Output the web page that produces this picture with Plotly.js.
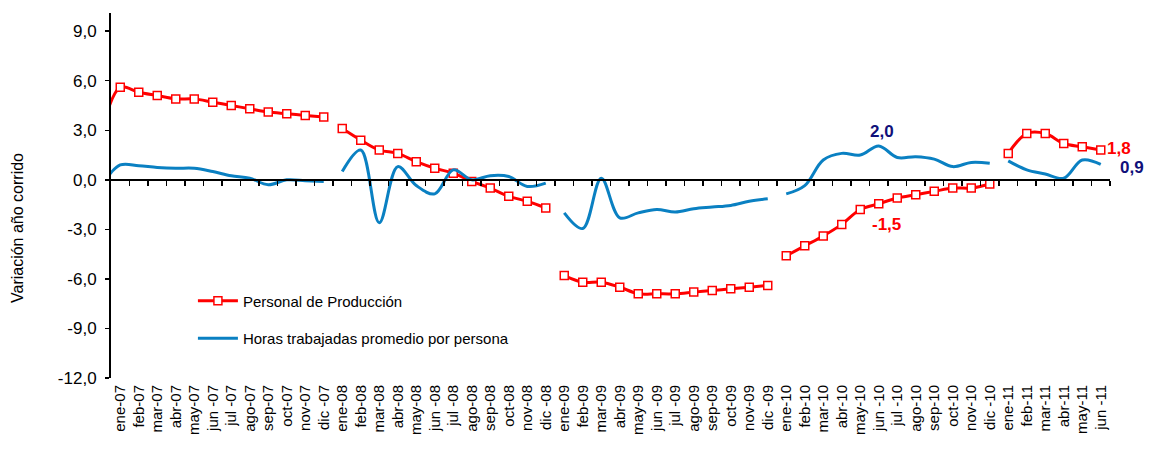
<!DOCTYPE html>
<html>
<head>
<meta charset="utf-8">
<script src="https://cdn.plot.ly/plotly-3.0.1.min.js"></script>
<style>html,body{margin:0;padding:0;background:#fff}#chart{width:1153px;height:450px}</style>
</head>
<body>
<div id="chart"></div>
<script>
// Category labels (months)
const labels = [
  'ene-07','feb-07','mar-07','abr-07','may-07','jun -07','jul -07','ago-07','sep-07','oct-07','nov-07','dic -07',
  'ene-08','feb-08','mar-08','abr-08','may-08','jun -08','jul -08','ago-08','sep-08','oct-08','nov-08','dic -08',
  'ene-09','feb-09','mar-09','abr-09','may-09','jun -09','jul -09','ago-09','sep-09','oct-09','nov-09','dic -09',
  'ene-10','feb-10','mar-10','abr-10','may-10','jun -10','jul -10','ago-10','sep-10','oct-10','nov-10','dic -10',
  'ene-11','feb-11','mar-11','abr-11','may-11','jun -11'
];

// Personal de Producción (variación año corrido, %)
const personal = [
  5.6, 5.3, 5.1, 4.9, 4.9, 4.7, 4.5, 4.3, 4.1, 4.0, 3.9, 3.8,
  3.1, 2.4, 1.8, 1.6, 1.1, 0.7, 0.4, -0.1, -0.5, -1.0, -1.3, -1.7,
  -5.8, -6.2, -6.2, -6.5, -6.9, -6.9, -6.9, -6.8, -6.7, -6.6, -6.5, -6.4,
  -4.6, -4.0, -3.4, -2.7, -1.8, -1.45, -1.1, -0.9, -0.7, -0.5, -0.5, -0.25,
  1.6, 2.8, 2.8, 2.2, 2.0, 1.8
];

// Horas trabajadas promedio por persona (variación año corrido, %)
const horas = [
  0.9, 0.85, 0.75, 0.7, 0.7, 0.5, 0.25, 0.1, -0.3, 0.0, -0.05, -0.1,
  0.5, 1.8, -2.6, 0.8, -0.35, -0.85, 0.6, 0.0, 0.25, 0.2, -0.4, -0.2,
  -2.0, -2.95, 0.1, -2.3, -2.0, -1.8, -1.95, -1.75, -1.65, -1.55, -1.3, -1.15,
  -0.85, -0.35, 1.2, 1.6, 1.5, 2.05, 1.35, 1.4, 1.25, 0.8, 1.05, 1.0,
  1.15, 0.6, 0.35, 0.1, 1.2, 0.93
];

// Previous month (dic-06), only partly visible at the left edge
const personalPrev = 2.9;
const horasPrev = -0.3;

// Y-axis ticks
const yTickVals = [-12, -9, -6, -3, 0, 3, 6, 9];
const yTickText = ['-12,0', '-9,0', '-6,0', '-3,0', '0,0', '3,0', '6,0', '9,0'];
const yTitle = 'Variación año corrido';

// Value labels
const labelJun10Horas = '2,0';
const labelJun10Personal = '-1,5';
const labelLastPersonal = '1,8';
const labelLastHoras = '0,9';

const yearOf = l => l.slice(-2);
function build(vals, prev) {
  const xs = [-1], ys = [prev];
  vals.forEach((v, i) => {
    if (i > 0 && yearOf(labels[i]) !== yearOf(labels[i - 1])) { xs.push(i - 0.5); ys.push(null); }
    xs.push(i); ys.push(v);
  });
  return {xs, ys};
}
const P = build(personal, personalPrev);
const H = build(horas, horasPrev);
const idx = labels.map((_, i) => i);
const last = labels.length - 1;
const jun10 = labels.indexOf('jun -10');

const FONT = 'Liberation Sans, Arial, sans-serif';

const traces = [
  {
    x: P.xs, y: P.ys, name: 'Personal de Producción', type: 'scatter', mode: 'lines+markers',
    legendgroup: 'p',
    line: {color: '#FF0000', width: 3, shape: 'spline', smoothing: 1},
    marker: {symbol: 'square', size: 8, color: '#FFFFFF', line: {color: '#FF0000', width: 1.5}},
    hoverinfo: 'skip'
  },
  {
    x: H.xs, y: H.ys, name: 'Horas trabajadas promedio por persona', type: 'scatter', mode: 'lines',
    legendgroup: 'h',
    line: {color: '#0A80C2', width: 3, shape: 'spline', smoothing: 1},
    hoverinfo: 'skip'
  },
  {
    x: [null], y: [null], xaxis: 'x2', yaxis: 'y', showlegend: false, hoverinfo: 'skip', mode: 'lines'
  }
];

const yMin = -12, yMax = 10.1;

const layout = {
  width: 1153, height: 450,
  margin: {l: 111, r: 43, t: 13, b: 72, pad: 0},
  paper_bgcolor: '#FFFFFF', plot_bgcolor: '#FFFFFF',
  font: {family: FONT, color: '#000'},
  showlegend: true,
  legend: {
    x: 0.082, y: 0.256, xanchor: 'left', yanchor: 'top',
    font: {family: FONT, size: 15, color: '#000'},
    tracegroupgap: 15, bgcolor: 'rgba(0,0,0,0)', itemwidth: 40
  },
  xaxis: {
    range: [-0.5, last + 0.5], tickvals: idx, ticktext: labels, tickangle: -90,
    showline: false, ticks: '', showgrid: false, zeroline: false, ticklabelstandoff: 3,
    tickfont: {family: FONT, size: 15, color: '#000'}, automargin: false
  },
  xaxis2: {
    overlaying: 'x', anchor: 'free', position: (0 - yMin) / (yMax - yMin), side: 'bottom',
    range: [-0.5, last + 0.5], tickvals: idx.map(i => i + 0.5),
    ticks: 'outside', ticklen: 5, tickwidth: 1.5, tickcolor: '#000',
    showline: true, linecolor: '#000', linewidth: 2,
    showticklabels: false, showgrid: false, zeroline: false
  },
  yaxis: {
    range: [yMin, yMax], tickvals: yTickVals, ticktext: yTickText,
    ticks: 'outside', ticklen: 4, tickwidth: 1.5, tickcolor: '#000',
    showline: true, linecolor: '#000', linewidth: 2,
    showgrid: false, zeroline: false, automargin: false, ticklabelstandoff: 5,
    tickfont: {family: FONT, size: 17, color: '#000'}
  },
  annotations: [
    {xref: 'paper', yref: 'paper', x: 0, y: (378 - 228) / 365, xshift: -94, text: yTitle,
     textangle: -90, showarrow: false, xanchor: 'center', yanchor: 'middle',
     font: {family: FONT, size: 16, color: '#000'}},
    {x: jun10, y: horas[jun10], xref: 'x', yref: 'y', text: labelJun10Horas, showarrow: false,
     yshift: 14, xshift: 3, font: {family: FONT, size: 17, color: '#10107A', weight: 'bold'}},
    {x: jun10, y: personal[jun10], xref: 'x', yref: 'y', text: labelJun10Personal, showarrow: false,
     yshift: -21, xshift: 8, font: {family: FONT, size: 17, color: '#FF0000', weight: 'bold'}},
    {x: last, y: personal[last], xref: 'x', yref: 'y', text: labelLastPersonal, showarrow: false,
     xanchor: 'left', xshift: 4, yshift: 2, font: {family: FONT, size: 17, color: '#FF0000', weight: 'bold'}},
    {x: last, y: horas[last], xref: 'x', yref: 'y', text: labelLastHoras, showarrow: false,
     xanchor: 'left', xshift: 17, yshift: -3, font: {family: FONT, size: 17, color: '#10107A', weight: 'bold'}}
  ]
};

Plotly.newPlot('chart', traces, layout, {displayModeBar: false, staticPlot: true});
</script>
</body>
</html>
